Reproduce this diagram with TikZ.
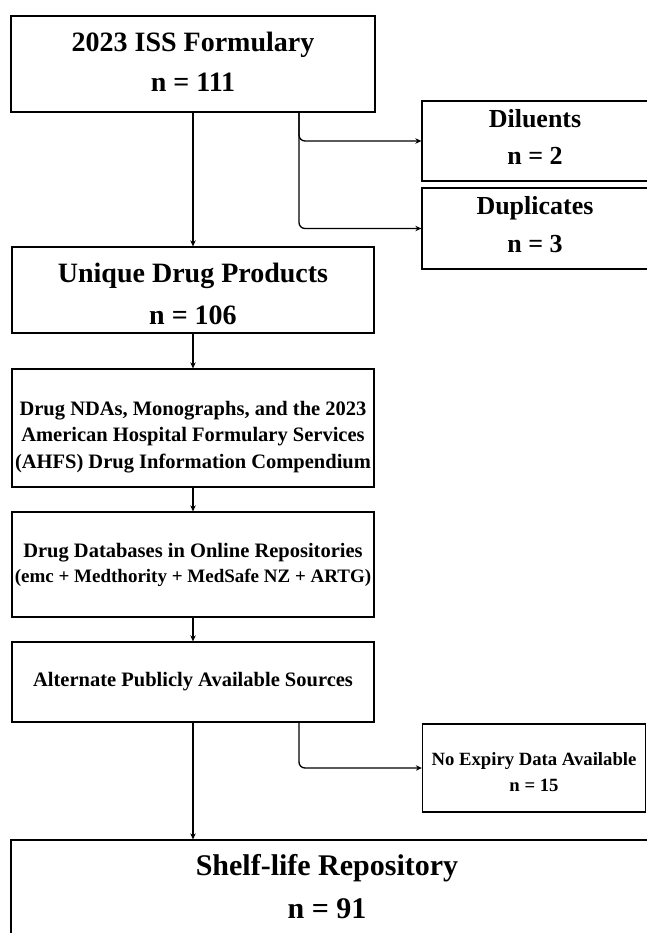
\documentclass[tikz,border=0pt]{standalone}
\usepackage{fontspec}
\setmainfont{Liberation Serif}
\usepackage{tikz}
\usetikzlibrary{arrows.meta,positioning}

\newcommand{\upsp}[1]{\rule{0pt}{#1pt}}
\newcommand{\dnsp}[1]{\rule[-#1pt]{0pt}{#1pt}}

\begin{document}
\begin{tikzpicture}[->,>={Stealth[length=6pt,width=5.5pt]},line width=1.3pt,on grid,x=1pt,y=-1pt,
    box/.style={draw, rectangle, align=center, inner sep=0pt}]
    \useasboundingbox (0,0) rectangle (646,933);
    %% node
    \node (form) [box, minimum width=364pt, minimum height=96pt,
      font=\fontsize{28}{40}\selectfont\bfseries] at (193,64)
      {\upsp{20}2023 ISS Formulary\\ n = 111\dnsp{4}};
    \node (dil) [box, below right=77pt and 342pt of form, minimum width=226pt, minimum height=80pt,
      font=\fontsize{26}{37.5}\selectfont\bfseries]
      {\upsp{19}Diluents\\ n = 2\dnsp{9}};
    \node (dup) [box, below=87.5pt of dil, minimum width=226pt, minimum height=81pt,
      font=\fontsize{26}{37.5}\selectfont\bfseries]
      {\upsp{19}Duplicates\\ n = 3\dnsp{9}};
    \node (uniq) [box, below=226pt of form, minimum width=362pt, minimum height=86pt,
      font=\fontsize{28}{42}\selectfont\bfseries]
      {\upsp{28}Unique Drug Products\\ n = 106};
    \node (nda) [box, below=138pt of uniq, minimum width=362pt, minimum height=118pt,
      font=\fontsize{20.5}{26.5}\selectfont\bfseries]
      {\upsp{32}Drug NDAs, Monographs, and the 2023\\
        American Hospital Formulary Services\\
        (AHFS) Drug Information Compendium\dnsp{5}};
    \node (db) [box, below=136.5pt of nda, minimum width=362pt, minimum height=105pt,
      font=\fontsize{20.5}{25}\selectfont\bfseries]
      {\upsp{15}Drug Databases in Online Repositories\\
        {\fontsize{19}{25}\selectfont (emc + Medthority + MedSafe NZ + ARTG)}\dnsp{5}};
    \node (alt) [box, below=117.5pt of db, minimum width=362pt, minimum height=80pt,
      font=\fontsize{20.5}{25}\selectfont\bfseries]
      {Alternate Publicly Available Sources};
    \node (noexp) [box, below right=86pt and 341pt of alt, minimum width=223pt, minimum height=88pt,
      font=\fontsize{18.7}{26}\selectfont\bfseries]
      {\upsp{22}No Expiry Data Available\\ n = 15};
    \node (shelf) [box, below right=218pt and 162.5pt of alt, minimum width=689pt, minimum height=120pt,
      font=\fontsize{30}{43}\selectfont\bfseries]
      {\hspace*{-57pt}\upsp{21}Shelf-life Repository\\ \hspace*{-57pt}n = 91\dnsp{28}};
    %% path
    \draw (form) -- (uniq);
    \draw (uniq) -- (nda);
    \draw (nda) -- (db);
    \draw (db) -- (alt);
    \draw (alt.south) -- (alt.south |- shelf.north);
    \draw [rounded corners=6pt] ([xshift=106pt]form.south) |- (dil.west);
    \draw [rounded corners=6pt] ([xshift=106pt]form.south) |- (dup.west);
    \draw [rounded corners=6pt] ([xshift=106pt]alt.south) |- (noexp.west);
\end{tikzpicture}
\end{document}
